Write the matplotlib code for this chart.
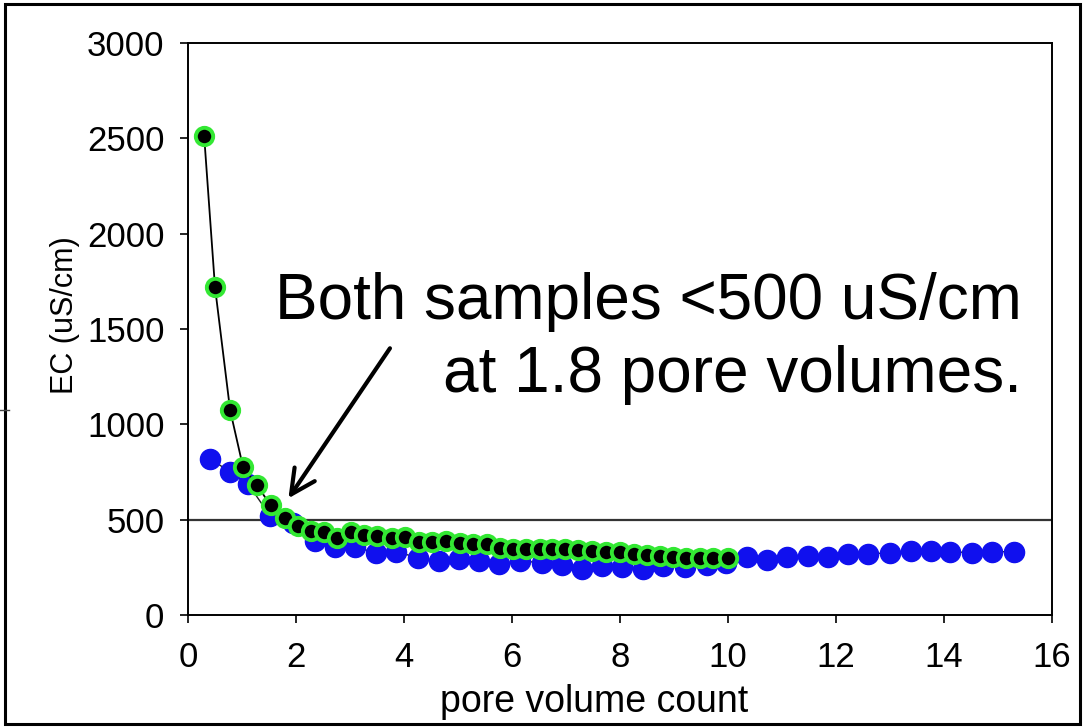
import matplotlib.pyplot as plt
from matplotlib.patches import Rectangle
from matplotlib.lines import Line2D

plt.rcParams['font.family'] = ['Liberation Sans', 'DejaVu Sans']

# sample A (black / green markers)
green_x = [0.30, 0.50, 0.78, 1.02, 1.28, 1.53, 1.79, 2.04, 2.28, 2.52, 2.76, 3.01,
           3.26, 3.50, 3.77, 4.02, 4.28, 4.51, 4.78, 5.03, 5.27, 5.53, 5.78, 6.02,
           6.26, 6.51, 6.75, 6.99, 7.23, 7.49, 7.75, 8.00, 8.26, 8.50, 8.75, 8.98,
           9.23, 9.48, 9.73, 10.00]
green_y = [2510, 1720, 1075, 775, 680, 575, 510, 467, 440, 435, 405, 435,
           420, 412, 402, 407, 384, 384, 390, 376, 371, 371, 350, 346,
           346, 345, 346, 345, 341, 336, 332, 332, 320, 315, 310, 306,
           298, 298, 298, 298]

# sample B (blue markers)
blue_x = [0.41, 0.78, 1.12, 1.52, 1.95, 2.35, 2.72, 3.09, 3.49, 3.86, 4.26, 4.64,
          5.01, 5.38, 5.76, 6.15, 6.55, 6.92, 7.29, 7.66, 8.03, 8.43, 8.80, 9.20,
          9.61, 9.96, 10.36, 10.72, 11.10, 11.49, 11.86, 12.23, 12.60, 13.00,
          13.38, 13.75, 14.12, 14.51, 14.88, 15.30]
blue_y = [820, 750, 685, 520, 485, 390, 358, 358, 325, 332, 300, 285,
          292, 284, 269, 284, 274, 262, 240, 257, 250, 240, 257, 250,
          262, 271, 303, 290, 303, 309, 303, 320, 320, 327, 337, 337,
          332, 327, 332, 332]

threshold = 500

fig = plt.figure(figsize=(10.86, 7.28), dpi=100)
ax = fig.add_axes([0.1731, 0.1552, 0.7956, 0.7857])

ax.plot(blue_x, blue_y, color='#222222', lw=1.0, marker='o', ms=14.5,
        mfc='#1010ee', mec='#1010ee', zorder=3)
ax.plot(green_x, green_y, color='black', lw=1.3, marker='o', ms=12.5,
        mfc='black', mec='#33e833', mew=2.8, zorder=4)

ax.axhline(threshold, color='#333333', lw=1.6, zorder=2)

ax.set_xlim(0, 16)
ax.set_ylim(0, 3000)
ax.set_xticks(range(0, 17, 2))
ax.set_yticks(range(0, 3001, 500))
ax.tick_params(direction='out', length=6, width=1.2, labelsize=25, pad=11,
               top=False, right=False)
ax.tick_params(axis='x', pad=13)
for sp in ax.spines.values():
    sp.set_linewidth(1.4)

ax.set_xlabel('pore volume count', fontsize=27)
ax.set_ylabel('EC (uS/cm)', fontsize=22)
ax.xaxis.set_label_coords(0.47, -0.12)
ax.yaxis.set_label_coords(-0.125, 0.524)

ax.text(15.44, 1452, 'Both samples <500 uS/cm\nat 1.8 pore volumes.',
        ha='right', va='center', fontsize=46, linespacing=1.27, zorder=5)
ax.annotate('', xy=(1.86, 612), xytext=(3.74, 1399),
            arrowprops=dict(arrowstyle='->,head_length=0.7,head_width=0.35',
                            lw=3, color='black', mutation_scale=25,
                            shrinkA=0, shrinkB=0), zorder=5)

# outer frame around the slide picture
fig.patches.append(Rectangle((5 / 1086, 4 / 728), 1075 / 1086, 720 / 728,
                             transform=fig.transFigure, fill=False,
                             lw=2.2, edgecolor='black'))
fig.lines.append(Line2D([0, 9 / 1086], [318 / 728, 318 / 728],
                        transform=fig.transFigure, color='#444444', lw=1))

fig.savefig('out.png', dpi=100, facecolor='white')
